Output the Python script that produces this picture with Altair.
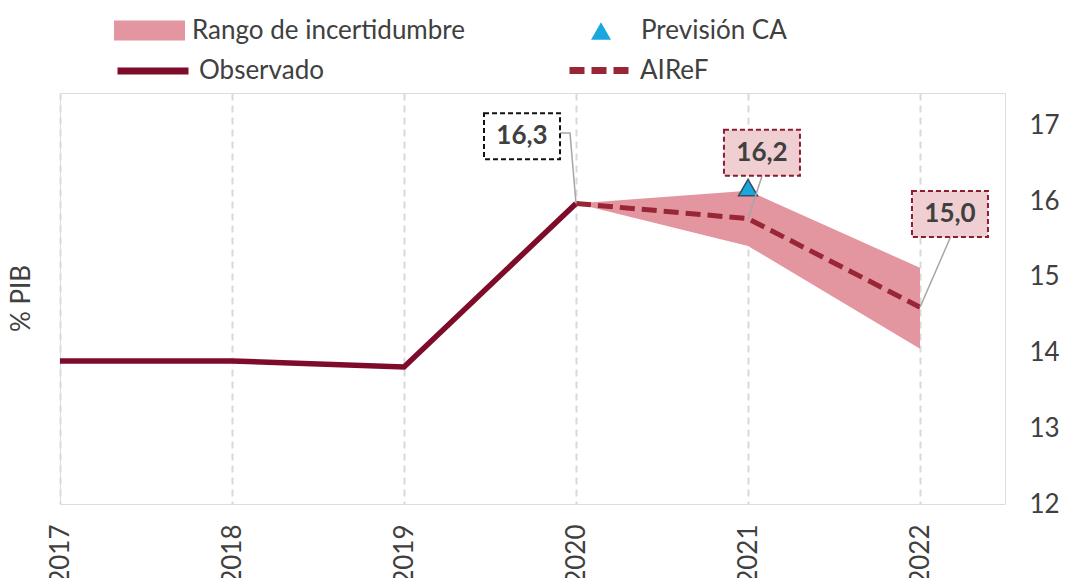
import altair as alt
import pandas as pd

# ---------------- data ----------------
years = [2017, 2018, 2019, 2020, 2021, 2022]
observado = [13.89, 13.89, 13.81, 15.97, None, None]
airef = [None, None, None, 15.97, 15.77, 14.60]
rango_bajo = [None, None, None, 15.97, 15.41, 14.05]
rango_alto = [None, None, None, 15.97, 16.14, 15.12]

ca_years = [2021]
ca_values = [16.18]

label_text = ["16,3", "16,2", "15,0"]
label_tipo = ["Observado", "AIReF", "AIReF"]
label_x = [2019.686, 2021.081, 2022.174]
label_y = [16.86, 16.64, 15.83]

conn_id = [0, 0, 0, 1, 1, 2, 2]
conn_order = [0, 1, 2, 0, 1, 0, 1]
conn_x = [2020, 2019.965, 2019.907, 2021, 2021.081, 2022, 2022.18]
conn_y = [15.97, 16.90, 16.90, 15.77, 16.33, 14.60, 15.54]

y_ticks = [12, 13, 14, 15, 16, 17]

# ---------------- frames ----------------
df = pd.DataFrame({"x": years, "obs": observado, "air": airef,
                   "lo": rango_bajo, "hi": rango_alto})
df_obs = df.dropna(subset=["obs"]).assign(serie="Observado")
df_air = df.dropna(subset=["air"]).assign(serie="AIReF")
df_rng = df.dropna(subset=["lo"]).assign(serie="Rango de incertidumbre")
df_ca = pd.DataFrame({"x": ca_years, "v": ca_values, "serie": "Previsión CA"})
df_lab = pd.DataFrame({"x": label_x, "v": label_y, "t": label_text, "tipo": label_tipo})
df_conn = pd.DataFrame({"id": conn_id, "o": conn_order, "x": conn_x, "v": conn_y})

FONT = "Lato"
TXT = "#404040"

xscale = alt.Scale(domain=[2017, 2022.494], nice=False, zero=False)
yscale = alt.Scale(domain=[12, 17.43], nice=False, zero=False)
xaxis = alt.Axis(values=years, format="d", labelAngle=270, labelAlign="right",
                 labelBaseline="middle", labelFont=FONT, labelFontSize=26,
                 labelColor=TXT, labelPadding=20, ticks=False, domain=False,
                 grid=True, gridColor="#d9d9d9", gridDash=[7, 5], gridWidth=2,
                 title=None, labelOverlap=False)
yaxis = alt.Axis(orient="right", values=y_ticks, labelFont=FONT, labelFontSize=26,
                 labelColor=TXT, labelPadding=24, ticks=False, domain=False,
                 grid=False, title=None)


def X(f="x"):
    return alt.X(f"{f}:Q", scale=xscale, axis=xaxis)


def Y(f):
    return alt.Y(f"{f}:Q", scale=yscale, axis=yaxis)


leg_common = dict(orient="none", title=None, padding=0, labelFont=FONT,
                  labelFontSize=26, labelColor=TXT, symbolOpacity=1, labelLimit=500)

area = alt.Chart(df_rng).mark_area(opacity=1).encode(
    x=X(), y=Y("lo"), y2="hi:Q",
    fill=alt.Fill("serie:N", scale=alt.Scale(domain=["Rango de incertidumbre"], range=["#e3969f"]),
                  legend=alt.Legend(legendX=54, legendY=-98, symbolType="M-1,-0.28L1,-0.28L1,0.28L-1,0.28Z",
                                    symbolSize=5041, symbolStrokeWidth=0, labelOffset=7, **leg_common)),
)

line_obs = alt.Chart(df_obs).mark_line(strokeWidth=5.5).encode(
    x=X(), y=Y("obs"),
    stroke=alt.Stroke("serie:N", scale=alt.Scale(domain=["Observado"], range=["#7f0b2a"]),
                      legend=alt.Legend(legendX=54, legendY=-61, symbolType="stroke", symbolSize=5041,
                                        symbolStrokeWidth=7, labelOffset=7, **leg_common)),
)

line_air = alt.Chart(df_air).mark_line(strokeWidth=5, color="#982637").encode(
    x=X(), y=Y("air"),
    strokeDash=alt.StrokeDash("serie:N", scale=alt.Scale(domain=["AIReF"], range=[[15, 7]]),
                              legend=alt.Legend(legendX=506, legendY=-59, symbolType="stroke", symbolSize=4356,
                                                symbolStrokeWidth=7, symbolStrokeColor="#982637",
                                                labelOffset=1, **leg_common)),
)

pts = alt.Chart(df_ca).mark_point(filled=True, size=360, fill="#1aa7e0", stroke="#3b4a5c",
                                  strokeWidth=1.5, opacity=1).encode(
    x=X(), y=Y("v"),
    shape=alt.Shape("serie:N", scale=alt.Scale(domain=["Previsión CA"], range=["triangle-up"]),
                    legend=alt.Legend(legendX=528, legendY=-75, symbolSize=400, symbolFillColor="#1aa7e0",
                                      symbolStrokeColor="#3b4a5c", symbolStrokeWidth=1.5,
                                      labelOffset=27, **leg_common)),
)

conn = alt.Chart(df_conn).mark_line(stroke="#a6a6a6", strokeWidth=1.5).encode(
    x=X(), y=Y("v"), detail="id:N", order="o:Q")

BOX = "M-1,-0.605L1,-0.605L1,0.605L-1,0.605Z"
box_obs = alt.Chart(df_lab).transform_filter("datum.tipo == 'Observado'").mark_point(
    shape=BOX, size=5776, fill="#ffffff", stroke="#111111", strokeWidth=2, strokeDash=[5, 3],
    opacity=1, fillOpacity=1).encode(x=X(), y=Y("v"))
box_air = alt.Chart(df_lab).transform_filter("datum.tipo == 'AIReF'").mark_point(
    shape=BOX, size=5776, fill="#efcfd2", stroke="#8c1c2e", strokeWidth=2, strokeDash=[5, 3],
    opacity=1, fillOpacity=1).encode(x=X(), y=Y("v"))
txt = alt.Chart(df_lab).mark_text(font=FONT, fontSize=26, fontWeight="bold", color=TXT,
                                  baseline="middle", align="center").encode(
    x=X(), y=Y("v"), text="t:N")

chart = alt.layer(area, line_obs, line_air, pts, conn, box_obs, box_air, txt).resolve_legend(
    fill="independent", stroke="independent", strokeDash="independent", shape="independent"
).properties(
    width=945, height=411,
    autosize=alt.AutoSizeParams(type="none"),
    padding={"left": 52, "top": 85, "right": 54, "bottom": 74},
    title=alt.Title("% PIB", orient="left", anchor="middle", font=FONT, fontSize=26,
                    fontWeight="normal", color=TXT, offset=12),
).configure_view(stroke="#44546a", strokeWidth=2).configure(background="white")

chart.save("out.html", embed_options={"renderer": "svg", "actions": False})
